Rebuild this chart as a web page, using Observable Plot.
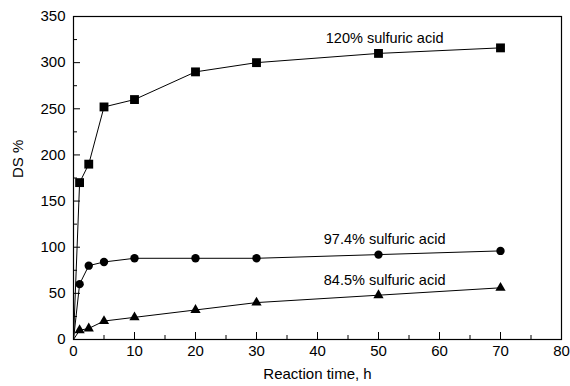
<!DOCTYPE html>
<html>
<head>
<meta charset="utf-8">
<script src="https://cdn.jsdelivr.net/npm/d3@7"></script>
<script src="https://cdn.jsdelivr.net/npm/@observablehq/plot@0.6"></script>
<style>
  html, body { margin: 0; padding: 0; background: #fff; }
</style>
</head>
<body>
<div id="chart"></div>
<script>
const times = [0, 1, 2.5, 5, 10, 20, 30, 50, 70];
const acid120 = [0, 170, 190, 252, 260, 290, 300, 310, 316];
const acid974 = [0, 60, 80, 84, 88, 88, 88, 92, 96];
const acid845 = [0, 10, 12, 20, 24, 32, 40, 48, 56];
const seriesNames = ["120% sulfuric acid", "97.4% sulfuric acid", "84.5% sulfuric acid"];
const seriesSymbols = ["square", "circle", "triangle"];
const labelX = [51, 51, 51];
const labelY = [326, 109, 64];
const xMajor = [0, 10, 20, 30, 40, 50, 60, 70, 80];
const xMinor = [5, 15, 25, 35, 45, 55, 65, 75];
const yMajor = [0, 50, 100, 150, 200, 250, 300, 350];
const yMinor = [25, 75, 125, 175, 225, 275, 325];

const seriesValues = [acid120, acid974, acid845];
const data = [];
seriesValues.forEach((vals, s) => {
  vals.forEach((v, i) => {
    data.push({series: seriesNames[s], symbol: seriesSymbols[s], t: times[i], ds: v, first: i === 0});
  });
});
const labels = seriesNames.map((n, i) => ({name: n, x: labelX[i], y: labelY[i]}));

const font = "Liberation Sans, Arial, Helvetica, sans-serif";

const chart = Plot.plot({
  width: 570,
  height: 386,
  marginLeft: 73,
  marginRight: 9,
  marginTop: 16,
  marginBottom: 47,
  style: {fontFamily: font, fontSize: "15px", color: "#000", background: "#fff"},
  x: {domain: [0, 80]},
  y: {domain: [0, 350]},
  marks: [
    Plot.frame({stroke: "#000", strokeWidth: 1.2}),
    Plot.axisX({ticks: xMajor, tickSize: -7, tickPadding: 13, tickFormat: d => String(d), fontSize: 15, label: null, stroke: "#000"}),
    Plot.axisX({ticks: xMinor, tickSize: -4, tickFormat: () => "", label: null, stroke: "#000"}),
    Plot.axisY({ticks: yMajor, tickSize: -7, tickPadding: 15, tickFormat: d => String(d), fontSize: 15, label: null, stroke: "#000"}),
    Plot.axisY({ticks: yMinor, tickSize: -4, tickFormat: () => "", label: null, stroke: "#000"}),
    Plot.line(data, {x: "t", y: "ds", z: "series", stroke: "#000", strokeWidth: 1}),
    Plot.dot(data.filter(d => !d.first && d.symbol === "square"), {x: "t", y: "ds", symbol: "square", r: 5, fill: "#000", stroke: "none"}),
    Plot.dot(data.filter(d => !d.first && d.symbol === "circle"), {x: "t", y: "ds", symbol: "circle", r: 4.2, fill: "#000", stroke: "none"}),
    Plot.dot(data.filter(d => !d.first && d.symbol === "triangle"), {x: "t", y: "ds", symbol: "triangle", r: 3.8, fill: "#000", stroke: "none"}),
    Plot.text(labels, {x: "x", y: "y", text: "name", fontSize: 14.5, fill: "#000"}),
    Plot.text(["Reaction time, h"], {frameAnchor: "bottom", dy: 39, fontSize: 15, fill: "#000"}),
    Plot.text(["DS %"], {frameAnchor: "left", dx: -55, rotate: -90, fontSize: 15, fill: "#000"})
  ]
});
document.getElementById("chart").appendChild(chart);
</script>
</body>
</html>
